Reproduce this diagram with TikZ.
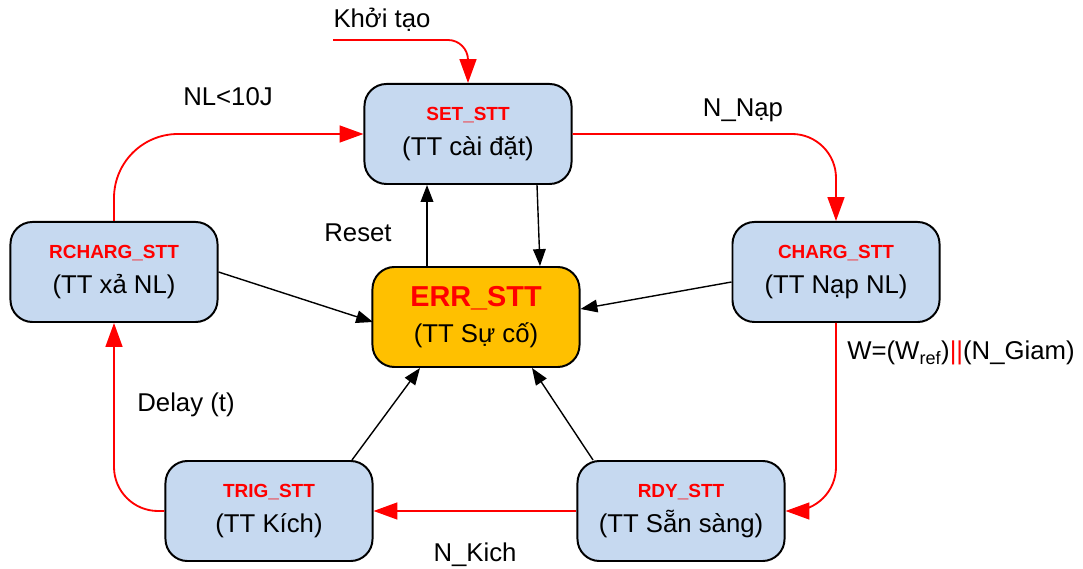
\documentclass[tikz,border=0pt]{standalone}
\usepackage{fontspec}
\setmainfont{Liberation Sans}
\usetikzlibrary{arrows.meta}

\definecolor{stblue}{RGB}{198,217,240}
\definecolor{errgold}{RGB}{255,192,0}
\definecolor{stred}{RGB}{255,0,0}

\newcommand{\sttitle}[1]{{\fontsize{13.5}{16}\selectfont\bfseries\color{stred}#1}}

\tikzset{
    state/.style={draw, line width=1.4pt, rounded corners=0.55cm, fill=stblue,
        minimum width=5.175cm, minimum height=2.5cm, align=center,
        font=\fontsize{18.3}{23}\selectfont},
    errstate/.style={state, fill=errgold},
    redarrow/.style={draw=stred, line width=1.3pt, -{Triangle[length=17pt, width=12pt]}},
    blkarrow/.style={draw=black, line width=1pt, -{Triangle[length=12pt, width=9pt]}},
    lbl/.style={font=\fontsize{18.3}{22}\selectfont, inner sep=0pt}
}

\begin{document}
\begin{tikzpicture}[x=0.025cm, y=-0.025cm]
    \useasboundingbox (0,0) rectangle (1083,569);

    \node[state] (set) at (468,134) {\sttitle{SET\_STT}\\[2pt](TT cài đặt)};
    \node[state] (rcharg) at (114,272) {\sttitle{RCHARG\_STT}\\[2pt](TT xả NL)};
    \node[state] (charg) at (836,272) {\sttitle{CHARG\_STT}\\[2pt](TT Nạp NL)};
    \node[errstate] (err) at (476,317)
        {{\fontsize{20.5}{24}\selectfont\bfseries\color{stred}ERR\_STT}\\[3pt](TT Sự cố)};
    \node[state] (trig) at (269,511) {\sttitle{TRIG\_STT}\\[2pt](TT Kích)};
    \node[state] (rdy) at (681,511) {\sttitle{RDY\_STT}\\[2pt](TT Sẵn sàng)};

    \coordinate (init) at (333,40);

    \draw[redarrow, rounded corners=0.5cm] (init) -| (set.north);
    \draw[redarrow, rounded corners=1.1cm] (set.east) -| (charg.north);
    \draw[redarrow, rounded corners=1.1cm] (charg.south) |- (rdy.east);
    \draw[redarrow] (rdy.west) -- (trig.east);
    \draw[redarrow, rounded corners=1.1cm] (trig.west) -| (rcharg.south);
    \draw[redarrow, rounded corners=1.6cm] (rcharg.north) |- (set.west);

    \draw[blkarrow] (427,0 |- err.north) -- (427,0 |- set.south);
    \draw[blkarrow] (537,0 |- set.south) -- (540,0 |- err.north);
    \draw[blkarrow] (rcharg.east) -- (373,322);
    \draw[blkarrow] (charg.west |- 0,282) -- (err.east |- 0,309);
    \draw[blkarrow] (352,0 |- trig.north) -- (420,0 |- err.south);
    \draw[blkarrow] (593,0 |- rdy.north) -- (532,0 |- err.south);

    \node[lbl] (kt) at (382,20) {Khởi tạo};
    \node[lbl] (nl) at (228,97) {NL<10J};
    \node[lbl] (nnap) at (743,110) {N\_Nạp};
    \node[lbl] (reset) at (358,233) {Reset};
    \node[lbl] (wcond) at (961,353) {W=(W\textsubscript{ref})\textcolor{stred}{||}(N\_Giam)};
    \node[lbl] (delay) at (186,405) {Delay (t)};
    \node[lbl] (nkich) at (475,555) {N\_Kich};
\end{tikzpicture}
\end{document}
